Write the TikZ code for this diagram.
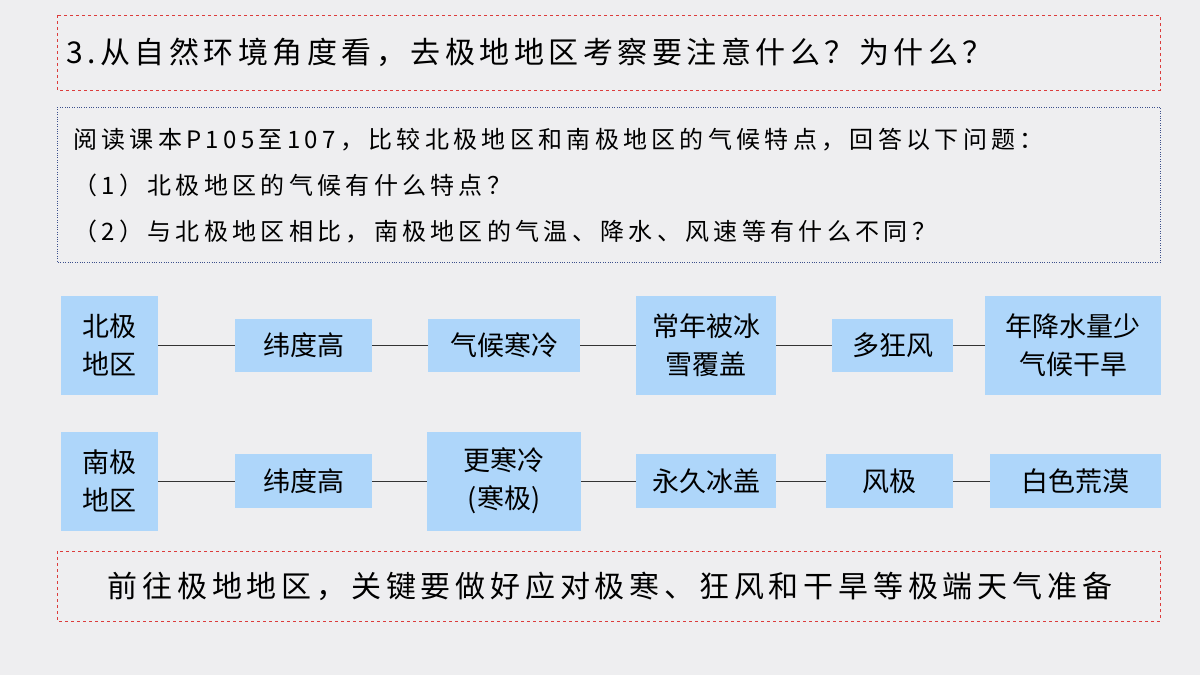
\documentclass[tikz,border=0pt]{standalone}
\usepackage{fontspec}
\setmainfont{Noto Sans CJK SC}
\definecolor{boxblue}{RGB}{174,214,250}
\definecolor{bggray}{RGB}{238,238,240}
\definecolor{framered}{RGB}{220,60,60}
\definecolor{frameblue}{RGB}{60,80,140}
\begin{document}
\begin{tikzpicture}[x=1pt,y=-1pt,
  cell/.style={fill=boxblue, inner sep=0pt, align=center, font=\fontsize{27}{38}\selectfont},
  link/.style={draw=black!80, thin}]

\fill[bggray] (0,0) rectangle (1200,675);
\useasboundingbox (0,0) rectangle (1200,675);

% question
\draw[framered, dashed, thin] (57,15) rectangle (1160,90);
\node[anchor=west, inner sep=0pt, font=\fontsize{30}{34}\selectfont\addfontfeature{LetterSpace=15}] (q) at (66,52) {3.从自然环境角度看，去极地地区考察要注意什么？为什么？};

% task
\draw[frameblue, dotted, thin] (57,107) rectangle (1160,262);
\node[anchor=north west, align=left, inner sep=0pt, font=\fontsize{24}{46}\selectfont\addfontfeature{LetterSpace=18}] (task) at (73,128)
  {阅读课本P105至107，比较北极地区和南极地区的气候特点，回答以下问题：\\
  （1）北极地区的气候有什么特点？\\
  （2）与北极地区相比，南极地区的气温、降水、风速等有什么不同？};

% north row
\node[cell, minimum width=97pt, minimum height=99pt] (n1) at (109.5,345) {北极\\地区};
\node[cell, minimum width=137pt, minimum height=53pt] (n2) at (303.5,345) {纬度高};
\node[cell, minimum width=152pt, minimum height=53pt] (n3) at (504,345) {气候寒冷};
\node[cell, minimum width=140pt, minimum height=99pt] (n4) at (706,345) {常年被冰\\雪覆盖};
\node[cell, minimum width=121pt, minimum height=53pt] (n5) at (892.5,345) {多狂风};
\node[cell, minimum width=176pt, minimum height=99pt] (n6) at (1073,345) {年降水量少\\气候干旱};

% south row
\node[cell, minimum width=97pt, minimum height=99pt] (s1) at (109.5,481) {南极\\地区};
\node[cell, minimum width=137pt, minimum height=54pt] (s2) at (303.5,481) {纬度高};
\node[cell, minimum width=154pt, minimum height=99pt] (s3) at (504,481) {更寒冷\\(寒极)};
\node[cell, minimum width=140pt, minimum height=54pt] (s4) at (706,481) {永久冰盖};
\node[cell, minimum width=127pt, minimum height=54pt] (s5) at (889.5,481) {风极};
\node[cell, minimum width=171pt, minimum height=54pt] (s6) at (1075.5,481) {白色荒漠};

\foreach \a/\b in {1/2,2/3,3/4,4/5,5/6}{
  \draw[link] (n\a) -- (n\b);
  \draw[link] (s\a) -- (s\b);
}

% conclusion
\draw[framered, dashed, thin] (57,551) rectangle (1160,621);
\node[font=\fontsize{30}{34}\selectfont\addfontfeature{LetterSpace=16}] (c) at (610,586) {前往极地地区，关键要做好应对极寒、狂风和干旱等极端天气准备};
\end{tikzpicture}
\end{document}
